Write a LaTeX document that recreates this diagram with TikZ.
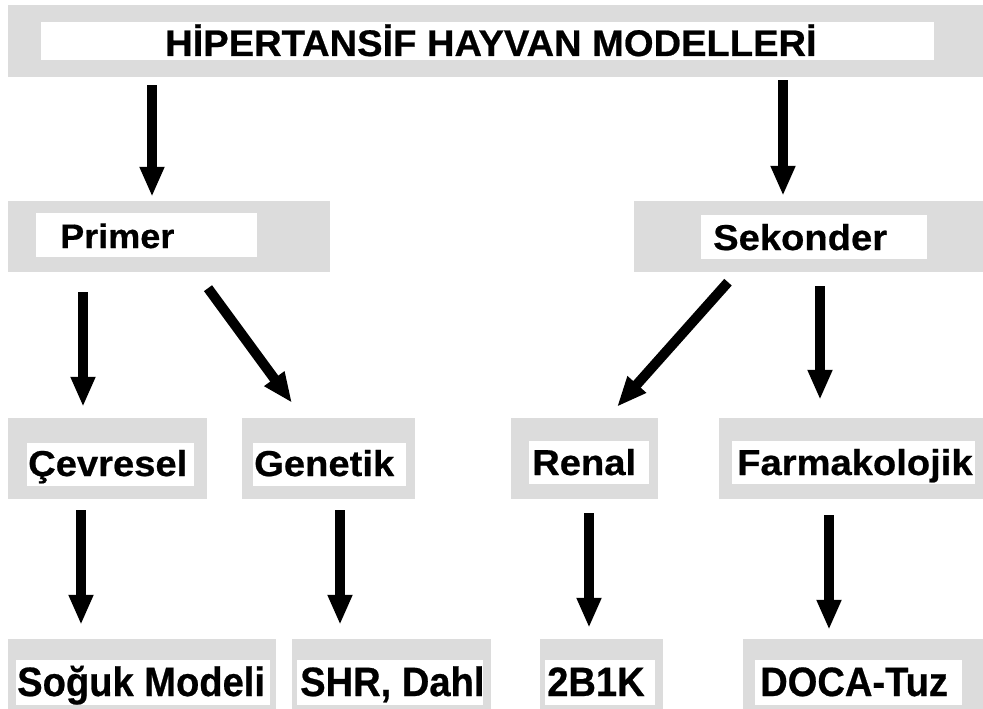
\documentclass[tikz,border=0pt]{standalone}
\usepackage{fontspec}
\setmainfont{Liberation Sans}[FakeStretch=1.06, BoldFeatures={FakeBold=0.6}]
\newfontfamily\titlefont{Liberation Sans}[FakeStretch=1.03, BoldFeatures={FakeBold=0.6}]
\newfontfamily\narrowfont{Liberation Sans}[FakeStretch=0.93, BoldFeatures={FakeBold=0.6}]
\usepackage{tikz}
\usetikzlibrary{arrows.meta}
\definecolor{boxgrey}{RGB}{220,220,220}
\tikzset{
  greybox/.style={rectangle, fill=boxgrey, inner sep=0pt},
  whitebox/.style={rectangle, fill=white, inner sep=0pt},
  lbl/.style={inner sep=0pt, anchor=base west, font=\bfseries\fontsize{34}{40}\selectfont},
  lbltitle/.style={inner sep=0pt, anchor=base west, font=\titlefont\bfseries\fontsize{37}{42}\selectfont},
  lblbig/.style={inner sep=0pt, anchor=base west, font=\bfseries\fontsize{36}{42}\selectfont},
  lblnarrow/.style={inner sep=0pt, anchor=base west, font=\narrowfont\bfseries\fontsize{41}{46}\selectfont},
  arr/.style={line width=10pt, -{Triangle[length=30pt,width=23pt]}}
}

\begin{document}
\begin{tikzpicture}[x=1pt, y=-1pt]
\useasboundingbox (0,0) rectangle (983,709);

% top
\node[greybox, minimum width=975, minimum height=72] (title) at (495,41) {};
\node[whitebox, minimum width=893, minimum height=38] (title-w) at (487.5,41) {};
\node[lbltitle] (title-t) at (165,56) {HİPERTANSİF HAYVAN MODELLERİ};

% second row
\node[greybox, minimum width=322, minimum height=71] (primer) at (169,236.5) {};
\node[whitebox, minimum width=221, minimum height=44] (primer-w) at (146.5,235) {};
\node[lbl] (primer-t) at (60,248) {Primer};

\node[greybox, minimum width=349, minimum height=71] (sekonder) at (808.5,236.5) {};
\node[whitebox, minimum width=226, minimum height=44] (sekonder-w) at (814,237) {};
\node[lblbig] (sekonder-t) at (713,250) {Sekonder};

% third row
\node[greybox, minimum width=199, minimum height=81] (cevresel) at (107.5,458.5) {};
\node[whitebox, minimum width=167, minimum height=43] (cevresel-w) at (110.5,464.5) {};
\node[lblbig] (cevresel-t) at (28,476) {Çevresel};

\node[greybox, minimum width=173, minimum height=81] (genetik) at (328.5,458.5) {};
\node[whitebox, minimum width=153, minimum height=43] (genetik-w) at (329.5,464.5) {};
\node[lblbig] (genetik-t) at (254,476) {Genetik};

\node[greybox, minimum width=147, minimum height=81] (renal) at (584.5,458.5) {};
\node[whitebox, minimum width=120, minimum height=43] (renal-w) at (589,462.5) {};
\node[lblbig] (renal-t) at (532,475) {Renal};

\node[greybox, minimum width=264, minimum height=81] (farma) at (851,458.5) {};
\node[whitebox, minimum width=243, minimum height=43] (farma-w) at (853.5,462.5) {};
\node[lblbig] (farma-t) at (737,475) {Farmakolojik};

% bottom row
\node[greybox, minimum width=268.5, minimum height=70] (soguk) at (141.75,674) {};
\node[whitebox, minimum width=254, minimum height=45] (soguk-w) at (143,682.5) {};
\node[lblnarrow] (soguk-t) at (17,696) {Soğuk Modeli};

\node[greybox, minimum width=199, minimum height=70] (shr) at (391.5,674) {};
\node[whitebox, minimum width=186, minimum height=45] (shr-w) at (390,682.5) {};
\node[lblnarrow] (shr-t) at (300,696) {SHR, Dahl};

\node[greybox, minimum width=123, minimum height=70] (bbk) at (601.5,674) {};
\node[whitebox, minimum width=110, minimum height=45] (bbk-w) at (600,682.5) {};
\node[lblnarrow] (bbk-t) at (547,696) {2B1K};

\node[greybox, minimum width=240, minimum height=70] (doca) at (863,674) {};
\node[whitebox, minimum width=207, minimum height=45] (doca-w) at (858.5,682.5) {};
\node[lblnarrow] (doca-t) at (760,696) {DOCA-Tuz};

% arrows
\draw[arr] ([shift={(-343,8)}]title.south) -- ([shift={(-17,-4)}]primer.north);
\draw[arr] ([shift={(288,3)}]title.south) -- ([shift={(-25.5,-5)}]sekonder.north);
\draw[arr] ([shift={(-86,20)}]primer.south) -- ([shift={(-24.5,-11)}]cevresel.north);
\draw[arr] ([shift={(39,16)}]primer.south) -- ([shift={(-36.5,-15)}]genetik.north);
\draw[arr] ([shift={(-80.5,10)}]sekonder.south) -- ([shift={(32.5,-11)}]renal.north);
\draw[arr] ([shift={(11.5,14)}]sekonder.south) -- ([shift={(-31,-18)}]farma.north);
\draw[arr] ([shift={(-26.5,11)}]cevresel.south) -- ([shift={(-60.75,-14)}]soguk.north);
\draw[arr] ([shift={(11.5,11)}]genetik.south) -- ([shift={(-51.5,-14)}]shr.north);
\draw[arr] ([shift={(4.5,14)}]renal.south) -- ([shift={(-12.5,-11)}]bbk.north);
\draw[arr] ([shift={(-22,16)}]farma.south) -- ([shift={(-34,-9)}]doca.north);
\end{tikzpicture}
\end{document}
